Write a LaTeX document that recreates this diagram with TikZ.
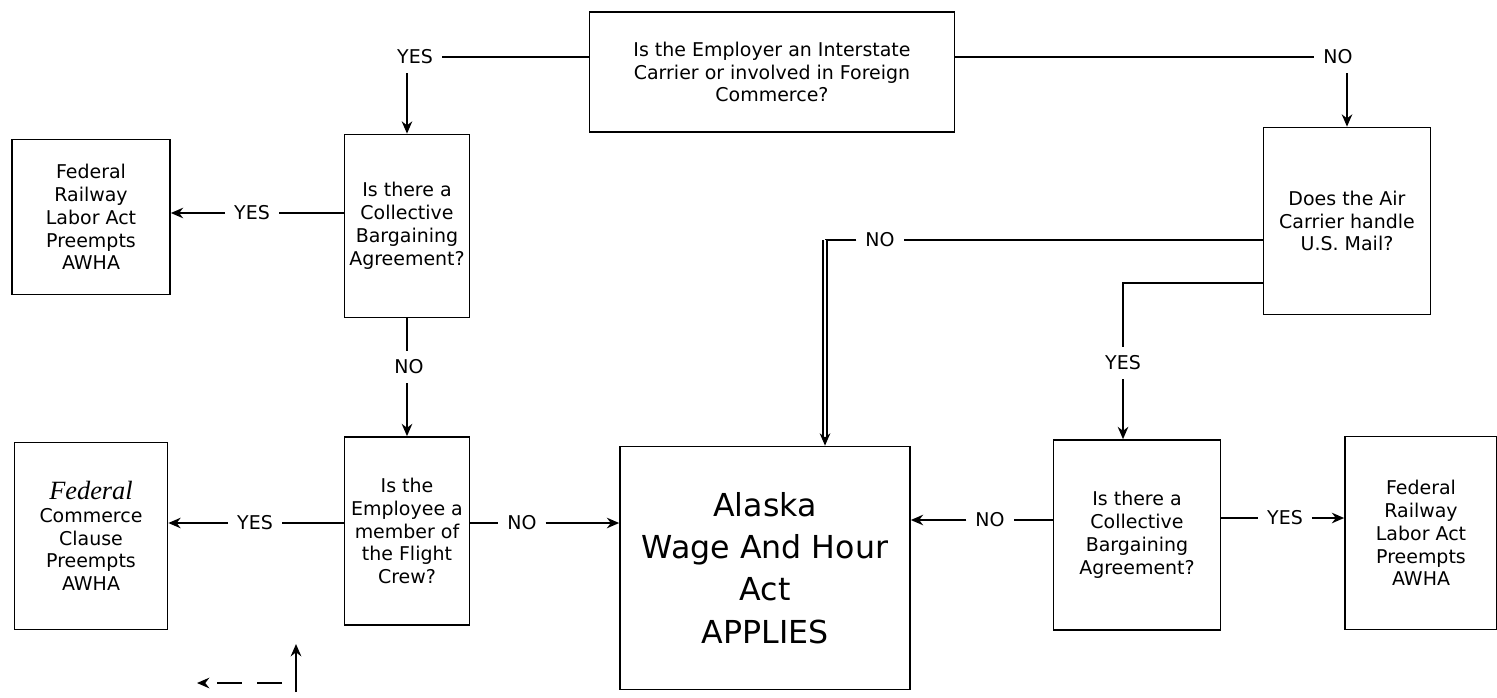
\documentclass[tikz,border=0pt]{standalone}
\usepackage{fontspec}
\setmainfont{DejaVu Sans}
\newfontfamily\handfont{Liberation Serif}
\usetikzlibrary{positioning, arrows.meta}
\tikzset{
  qbox/.style={rectangle, draw=black, line width=1pt, fill=white,
               align=center, inner sep=1pt,
               font=\fontsize{10.8}{13}\selectfont},
  bigbox/.style={rectangle, draw=black, line width=1pt, fill=white,
                 align=center, font=\fontsize{18}{24}\selectfont},
  lbl/.style={inner sep=5pt, font=\fontsize{10.8}{13}\selectfont},
  ln/.style={line width=0.9pt, color=black},
  arr/.style={-{Stealth[length=7pt, width=6pt]}, line width=0.9pt, color=black},
}
\begin{document}
\begin{tikzpicture}[x=0.02cm, y=-0.02cm]
    \useasboundingbox (0,0) rectangle (1497,697);
    % question and answer boxes
    \node[qbox, minimum width=7.3cm, minimum height=2.4cm] (emp) at (772,72)
          {Is the Employer an Interstate\\Carrier or involved in Foreign\\Commerce?};
    \node[qbox, minimum width=2.5cm, minimum height=3.66cm] (cbaL) at (407,226)
          {Is there a\\Collective\\Bargaining\\Agreement?};
    \node[qbox, minimum width=3.16cm, minimum height=3.1cm] (rlaL) at (91,217)
          {Federal\\Railway\\Labor Act\\Preempts\\AWHA};
    \node[qbox, minimum width=2.5cm, minimum height=3.76cm] (crew) at (407,531)
          {Is the\\Employee a\\member of\\the Flight\\Crew?};
    \node[qbox, minimum width=3.06cm, minimum height=3.74cm] (comm) at (91,536)
          {{\handfont\itshape\fontsize{15}{13}\selectfont Federal}\\Commerce\\Clause\\Preempts\\AWHA};
    \node[bigbox, minimum width=5.8cm, minimum height=4.86cm] (awha) at (765,568)
          {Alaska\\Wage And Hour\\Act\\APPLIES};
    \node[qbox, minimum width=3.34cm, minimum height=3.74cm] (mail) at (1347,221)
          {Does the Air\\Carrier handle\\U.S. Mail?};
    \node[qbox, minimum width=3.34cm, minimum height=3.8cm] (cbaR) at (1137,535)
          {Is there a\\Collective\\Bargaining\\Agreement?};
    \node[qbox, minimum width=3.04cm, minimum height=3.86cm] (rlaR) at (1421,533)
          {Federal\\Railway\\Labor Act\\Preempts\\AWHA};

    % labels on connectors
    \node[lbl] (yesEmp) at (415,57) {YES};
    \node[lbl] (noEmp) at (1338,57) {NO};
    \node[lbl] (yesCbaL) at (252,213) {YES};
    \node[lbl] (noCbaL) at (409,367) {NO};
    \node[lbl] (yesCrew) at (255,523) {YES};
    \node[lbl] (noCrew) at (522,523) {NO};
    \node[lbl] (noMail) at (880,240) {NO};
    \node[lbl] (yesMail) at (1123,363) {YES};
    \node[lbl] (noCbaR) at (990,520) {NO};
    \node[lbl] (yesCbaR) at (1285,518) {YES};
    \coordinate (turnNo) at (825,240);

    % connectors
    \draw[ln] (emp.west |- yesEmp) -- (yesEmp.east);
    \draw[arr] (yesEmp.south -| cbaL) -- (cbaL.north);
    \draw[ln] (emp.east |- noEmp) -- (noEmp.west);
    \draw[arr] (noEmp.south -| mail) -- (mail.north);
    \draw[ln] (cbaL.west |- yesCbaL) -- (yesCbaL.east);
    \draw[arr] (yesCbaL.west) -- (rlaL.east |- yesCbaL);
    \draw[ln] (cbaL.south) -- (noCbaL.north -| cbaL);
    \draw[arr] (noCbaL.south -| cbaL) -- (crew.north);
    \draw[ln] (crew.west |- yesCrew) -- (yesCrew.east);
    \draw[arr] (yesCrew.west) -- (comm.east |- yesCrew);
    \draw[ln] (crew.east |- noCrew) -- (noCrew.west);
    \draw[arr] (noCrew.east) -- (awha.west |- noCrew);
    \draw[ln] (mail.west |- noMail) -- (noMail.east);
    \draw[ln] (noMail.west) -- (turnNo);
    \draw[arr, double, double distance=1.5pt] (turnNo) -- (turnNo |- awha.north);
    \draw[ln] (mail.west |- 0,283) -| (yesMail.north);
    \draw[arr] (yesMail.south) -- (yesMail.south |- cbaR.north);
    \draw[ln] (cbaR.west |- noCbaR) -- (noCbaR.east);
    \draw[arr] (noCbaR.west) -- (awha.east |- noCbaR);
    \draw[ln] (cbaR.east |- yesCbaR) -- (yesCbaR.west);
    \draw[arr] (yesCbaR.east) -- (rlaR.west |- yesCbaR);

    % hand-drawn marks below the crew box
    \coordinate (markA) at (282,683);
    \coordinate (markB) at (197,683);
    \coordinate (markC) at (296,692);
    \coordinate (markD) at (296,644);
    \draw[arr, dash pattern=on 14pt off 9pt, line width=1.2pt] (markA) -- (markB);
    \draw[arr, line width=1.2pt] (markC) -- (markD);
\end{tikzpicture}
\end{document}
